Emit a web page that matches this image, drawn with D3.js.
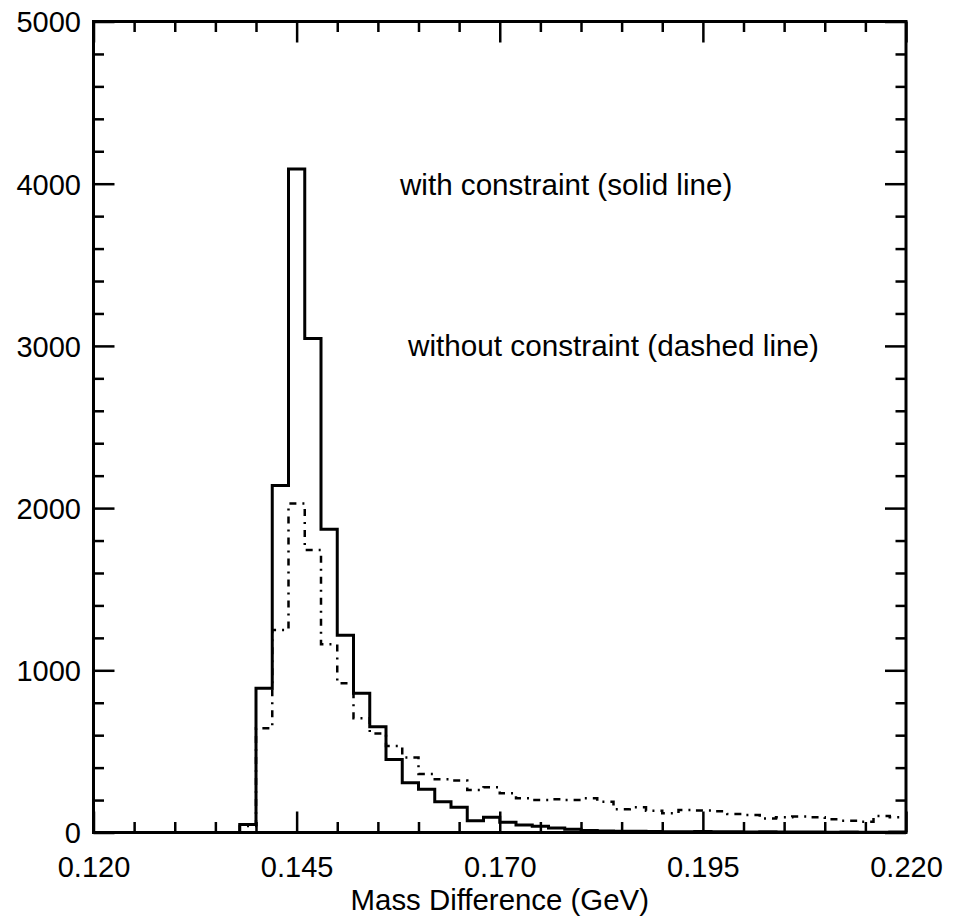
<!DOCTYPE html>
<html>
<head>
<meta charset="utf-8">
<script src="https://cdn.jsdelivr.net/npm/d3@7/dist/d3.min.js"></script>
<style>
  html, body { margin: 0; padding: 0; background: #fff; }
  svg { display: block; }
  text { font-family: "Liberation Sans", Arial, Helvetica, sans-serif; fill: #000; }
</style>
</head>
<body>
<svg id="chart" width="963" height="922"></svg>
<script>
// ---- data ----
const binStart = 0.120;
const binWidth = 0.002;
// counts per 0.002 GeV bin, from 0.120 to 0.220 (50 bins)
const withConstraint = [
  0, 0, 0, 0, 0, 0, 0, 0, 0, 50,
  889, 2140, 4090, 3045, 1870, 1216, 858, 652, 450, 307,
  266, 190, 155, 73, 94, 63, 46, 38, 28, 20,
  12, 10, 8, 8, 6, 5, 4, 6, 5, 4,
  3, 4, 3, 3, 3, 2, 3, 2, 2, 3
];
const withoutConstraint = [
  0, 0, 0, 0, 0, 0, 0, 0, 0, 40,
  642, 1248, 2029, 1741, 1160, 920, 704, 611, 533, 463,
  361, 328, 320, 262, 279, 242, 211, 200, 205, 200,
  211, 190, 143, 155, 134, 118, 139, 136, 131, 114,
  108, 87, 94, 98, 94, 81, 73, 67, 102, 94
];
const xMajorTicks = [0.120, 0.145, 0.170, 0.195, 0.220];
const xTickLabels = ["0.120", "0.145", "0.170", "0.195", "0.220"];
const yMajorTicks = [0, 1000, 2000, 3000, 4000, 5000];
const yTickLabels = ["0", "1000", "2000", "3000", "4000", "5000"];
const xTitle = "Mass Difference (GeV)";
const note1 = "with constraint (solid line)";
const note2 = "without constraint (dashed line)";

// ---- layout ----
const L = 93.5, R = 906, T = 21.5, B = 832.5;
const svg = d3.select("#chart");
const x = d3.scaleLinear().domain([0.120, 0.220]).range([L, R]);
const y = d3.scaleLinear().domain([0, 5000]).range([B, T]);

const xMinor = d3.range(0, 21).map(i => 0.120 + i * 0.005).filter(v => !xMajorTicks.some(m => Math.abs(m - v) < 1e-9));
const yMinor = d3.range(0, 26).map(i => i * 200).filter(v => v % 1000 !== 0);

function stepPoints(vals) {
  const pts = [];
  vals.forEach((v, i) => {
    const a = binStart + i * binWidth, b = a + binWidth;
    pts.push([a, v], [b, v]);
  });
  return pts;
}
const line = d3.line().x(d => x(d[0])).y(d => y(d[1]));

// histograms
svg.append("path")
  .attr("d", line(stepPoints(withoutConstraint)))
  .attr("fill", "none").attr("stroke", "#000")
  .attr("stroke-width", 2.5)
  .attr("stroke-dasharray", "7,6,2,6");
svg.append("path")
  .attr("d", line(stepPoints(withConstraint)))
  .attr("fill", "none").attr("stroke", "#000")
  .attr("stroke-width", 3)
  .attr("stroke-linejoin", "miter");

// axes (ticks inward)
function styleAxis(g) {
  g.select(".domain").remove();
  g.selectAll(".tick line").attr("stroke", "#000").attr("stroke-width", 2.5);
}
const FS = 29;
// bottom
svg.append("g").attr("transform", `translate(0,${B})`)
  .call(d3.axisBottom(x).tickValues(xMajorTicks).tickSize(-21).tickPadding(24)
    .tickFormat((d, i) => xTickLabels[i]))
  .call(styleAxis)
  .call(g => g.selectAll("text").attr("font-size", FS).attr("font-family", "Liberation Sans, Arial, sans-serif"));
svg.append("g").attr("transform", `translate(0,${B})`)
  .call(d3.axisBottom(x).tickValues(xMinor).tickSize(-10.5).tickFormat(""))
  .call(styleAxis);
// top
svg.append("g").attr("transform", `translate(0,${T})`)
  .call(d3.axisTop(x).tickValues(xMajorTicks).tickSize(-21).tickFormat(""))
  .call(styleAxis);
svg.append("g").attr("transform", `translate(0,${T})`)
  .call(d3.axisTop(x).tickValues(xMinor).tickSize(-10.5).tickFormat(""))
  .call(styleAxis);
// left
svg.append("g").attr("transform", `translate(${L},0)`)
  .call(d3.axisLeft(y).tickValues(yMajorTicks).tickSize(-21).tickPadding(12.5)
    .tickFormat((d, i) => yTickLabels[i]))
  .call(styleAxis)
  .call(g => g.selectAll("text").attr("font-size", FS).attr("dy", "0.36em").attr("font-family", "Liberation Sans, Arial, sans-serif"));
svg.append("g").attr("transform", `translate(${L},0)`)
  .call(d3.axisLeft(y).tickValues(yMinor).tickSize(-10.5).tickFormat(""))
  .call(styleAxis);
// right
svg.append("g").attr("transform", `translate(${R},0)`)
  .call(d3.axisRight(y).tickValues(yMajorTicks).tickSize(-21).tickFormat(""))
  .call(styleAxis);
svg.append("g").attr("transform", `translate(${R},0)`)
  .call(d3.axisRight(y).tickValues(yMinor).tickSize(-10.5).tickFormat(""))
  .call(styleAxis);

// frame
svg.append("rect")
  .attr("x", L).attr("y", T).attr("width", R - L).attr("height", B - T)
  .attr("fill", "none").attr("stroke", "#000").attr("stroke-width", 3);

// texts
svg.append("text").attr("x", (L + R) / 2).attr("y", 910)
  .attr("text-anchor", "middle").attr("font-size", 29.4).text(xTitle);
svg.append("text").attr("x", 400).attr("y", 195)
  .attr("font-size", 29.6).text(note1);
svg.append("text").attr("x", 408).attr("y", 356)
  .attr("font-size", 29.7).text(note2);
</script>
</body>
</html>
